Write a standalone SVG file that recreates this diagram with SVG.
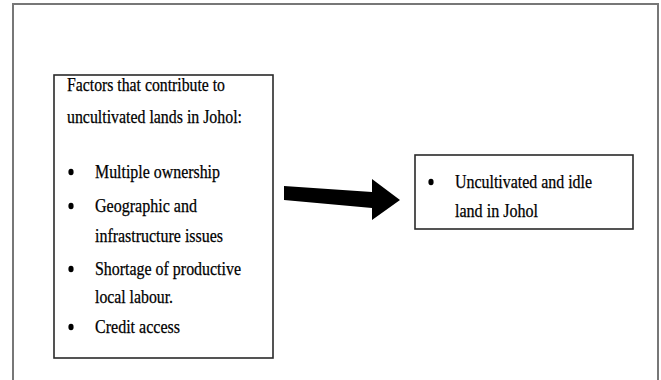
<svg xmlns="http://www.w3.org/2000/svg" width="661" height="380" viewBox="0 0 661 380">
<style>
.t{font-family:"Liberation Serif","Times New Roman",serif;font-size:19px;fill:#000;stroke:#000;stroke-width:0.25}
.box{fill:#fff;stroke:#2a2a2a;stroke-width:1.6}
.frame{fill:none;stroke:#777;stroke-width:2}
.b{fill:#000}
</style>
<rect width="661" height="380" fill="#fff"/>
<path class="frame" d="M13,381 V4 H658 V381"/>
<g id="factors">
<rect class="box" x="54" y="75" width="219" height="283"/>
<text class="t" x="67" y="91" textLength="158" lengthAdjust="spacingAndGlyphs">Factors that contribute to</text>
<text class="t" x="67" y="123" textLength="175" lengthAdjust="spacingAndGlyphs">uncultivated lands in Johol:</text>
<ellipse class="b" cx="71" cy="172" rx="2.6" ry="3.2"/>
<ellipse class="b" cx="71" cy="206" rx="2.6" ry="3.2"/>
<ellipse class="b" cx="71" cy="269" rx="2.6" ry="3.2"/>
<ellipse class="b" cx="71" cy="327" rx="2.6" ry="3.2"/>
<text class="t" x="95" y="178" textLength="125" lengthAdjust="spacingAndGlyphs">Multiple ownership</text>
<text class="t" x="95" y="212" textLength="102" lengthAdjust="spacingAndGlyphs">Geographic and</text>
<text class="t" x="95" y="242" textLength="128" lengthAdjust="spacingAndGlyphs">infrastructure issues</text>
<text class="t" x="95" y="275" textLength="146" lengthAdjust="spacingAndGlyphs">Shortage of productive</text>
<text class="t" x="95" y="303" textLength="78" lengthAdjust="spacingAndGlyphs">local labour.</text>
<text class="t" x="95" y="333" textLength="85" lengthAdjust="spacingAndGlyphs">Credit access</text>
</g>
<g id="connectors">
<polygon points="284,186 372,192 372,179 400,200 372,220 372,208 284,200" fill="#000"/>
</g>
<g id="result">
<rect class="box" x="415" y="155" width="218" height="74"/>
<ellipse class="b" cx="431" cy="182" rx="2.6" ry="3.2"/>
<text class="t" x="455" y="188" textLength="137" lengthAdjust="spacingAndGlyphs">Uncultivated and idle</text>
<text class="t" x="455" y="217" textLength="83" lengthAdjust="spacingAndGlyphs">land in Johol</text>
</g>
</svg>
